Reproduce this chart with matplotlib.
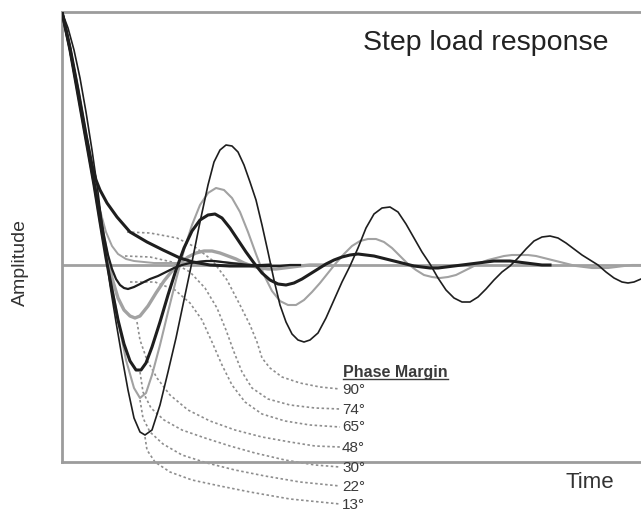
import matplotlib
matplotlib.use("Agg")
import matplotlib.pyplot as plt
from matplotlib.lines import Line2D

plt.rcParams['font.family'] = ['Liberation Sans', 'DejaVu Sans']

# time / amplitude in arbitrary units (no ticks on the original)
pm_labels = ["90°", "74°", "65°", "48°", "30°", "22°", "13°"]

t_13 = [0, 6, 12, 18, 24, 30, 36, 42, 48, 54, 60, 66, 72, 78, 83, 90, 98, 106, 114, 122,
        130, 138, 146, 152, 158, 164, 170, 176, 182, 188, 194, 200, 206, 212, 218, 224, 230, 236, 242, 248,
        256, 264, 272, 280, 288, 296, 304, 312, 320, 328, 336, 344, 352, 360, 368, 376, 384, 392, 400, 408,
        416, 424, 432, 440, 448, 456, 464, 472, 480, 488, 496, 504, 512, 520, 528, 536, 544, 552, 560, 566,
        572, 579]
a_13 = [253, 237, 215, 187, 153, 115, 73, 25, -20, -57, -92, -125, -153, -167, -170, -165, -140, -107, -73, -35,
        3, 43, 80, 103, 115, 120, 119, 113, 100, 83, 65, 40, 13, -15, -40, -57, -69, -75, -77, -75,
        -68, -53, -35, -17, -1, 17, 37, 51, 57, 58, 53, 41, 27, 13, 1, -13, -25, -33, -37, -37,
        -32, -24, -15, -7, -1, 7, 16, 24, 28, 29, 27, 22, 16, 10, 5, 0, -7, -13, -17, -18,
        -17, -14]

t_22 = [0, 8, 16, 24, 32, 40, 48, 56, 64, 72, 78, 84, 90, 98, 106, 114, 122, 130, 138, 146,
        154, 162, 170, 178, 186, 194, 202, 210, 218, 226, 234, 242, 250, 258, 266, 274, 282, 290, 298, 306,
        314, 322, 330, 338, 346, 354, 362, 370, 378, 386, 394, 402, 410, 418, 426, 434, 442, 450, 458, 466,
        474, 482, 490, 498, 506, 514, 522, 530, 538, 546, 554, 562, 570, 579]
a_22 = [253, 215, 170, 125, 80, 30, -10, -55, -95, -123, -133, -128, -110, -80, -47, -15, 15, 40, 60, 72,
        77, 75, 67, 53, 33, 11, -10, -26, -36, -40, -40, -35, -27, -18, -8, 2, 11, 19, 24, 26,
        26, 23, 17, 9, 1, -5, -10, -12, -13, -12, -10, -6, -2, 2, 5, 7, 9, 10, 10, 10,
        9, 7, 5, 3, 1, -1, -2, -3, -3, -3, -2, -1, 0, 0]

t_30 = [0, 8, 16, 24, 32, 38, 44, 50, 56, 62, 68, 74, 79, 84, 90, 98, 106, 114, 122, 130, 138, 146,
        153, 160, 168, 176, 184, 192, 200, 208, 216, 224, 232, 240, 248, 256, 264, 272, 280, 288,
        296, 304, 312, 320, 328, 336, 344, 352, 360, 368, 376, 384, 392, 400, 408, 416, 424, 432,
        440, 448, 456, 464, 472, 480, 488]
a_30 = [253, 215, 170, 125, 80, 43, 7, -25, -55, -79, -96, -105, -105, -98, -82, -57, -30, -5, 17, 34, 45, 50,
        51, 47, 37, 25, 13, 2, -8, -15, -19, -20, -18, -14, -9, -4, 1, 5, 8, 10,
        11, 10, 9, 7, 5, 3, 1, -1, -2, -3, -3, -2, -1, 0, 1, 2, 3, 4,
        4, 4, 3, 2, 1, 0, 0]

t_48 = [0, 8, 16, 24, 32, 38, 44, 50, 56, 62, 68, 73, 78, 86, 94, 102, 110, 118, 126, 134,
        142, 150, 158, 166, 174, 182, 190, 198, 206, 214, 222, 230, 238, 248, 268]
a_48 = [253, 217, 175, 130, 85, 50, 15, -13, -33, -45, -51, -53, -51, -41, -28, -16, -6, 2, 8, 12,
        14, 14, 12, 9, 6, 2, -1, -3, -4, -4, -3, -2, -1, 0, 0]

t_65 = [0, 8, 16, 24, 32, 38, 42, 46, 50, 54, 58, 62, 66, 72, 80, 88, 96, 104, 112, 120,
        128, 136, 144, 152, 160, 168, 178, 188, 198, 208, 218, 228, 238]
a_65 = [253, 217, 175, 130, 85, 53, 29, 10, -4, -14, -20, -23, -24, -22, -18, -14, -11, -7, -3, 0,
        2, 3, 4, 4, 3, 2, 1, 0, -1, -1, -1, 0, 0]

t_74 = [0, 8, 16, 24, 32, 38, 44, 50, 56, 64, 72, 82, 92, 102, 112, 122, 132, 142, 152, 162, 172, 182, 192, 208]
a_74 = [253, 215, 170, 125, 80, 55, 33, 19, 11, 6, 4, 3, 2, 2, 2, 2, 3, 4, 4, 3, 2, 1, 0, 0]

t_90 = [0, 8, 16, 24, 30, 34, 38, 45, 55, 68, 85, 101, 118, 131, 148, 168, 188, 208]
a_90 = [253, 217, 175, 130, 100, 85, 75, 62, 48, 33, 23, 15, 7, 3, 0, -1, -1, 0]

# dotted leader lines from each curve to its label
lt_90 = [65, 88, 115, 133, 150, 165, 178, 188, 195, 200, 208, 220, 238, 258, 278]
la_90 = [33, 32, 27, 18, 5, -15, -40, -60, -77, -93, -103, -112, -118, -122, -124]
lt_74 = [63, 88, 110, 128, 143, 155, 164, 172, 180, 190, 206, 228, 253, 278]
la_74 = [9, 8, 3, -7, -23, -43, -65, -87, -107, -123, -134, -140, -143, -144]
lt_65 = [68, 93, 113, 128, 140, 150, 160, 170, 183, 200, 223, 248, 278]
la_65 = [-17, -17, -25, -38, -55, -77, -100, -120, -137, -149, -156, -160, -162]
lt_48 = [75, 78, 85, 95, 108, 126, 148, 173, 200, 228, 253, 278]
la_48 = [-57, -75, -95, -113, -130, -145, -156, -165, -172, -177, -181, -182]
lt_30 = [78, 81, 89, 102, 120, 143, 168, 193, 223, 253, 278]
la_30 = [-107, -127, -143, -155, -165, -173, -181, -188, -195, -200, -202]
lt_22 = [78, 81, 88, 101, 120, 145, 173, 203, 238, 278]
la_22 = [-135, -153, -167, -179, -190, -198, -205, -211, -217, -221]
lt_13 = [83, 85, 93, 108, 130, 158, 188, 228, 278]
la_13 = [-172, -185, -197, -207, -215, -221, -227, -234, -239]

label_t = 280
label_a = [-125, -145, -162, -183, -203, -222, -240]

W, H = 641, 513
fig = plt.figure(figsize=(W / 100, H / 100), dpi=100)
ax = fig.add_axes([62 / W, (H - 462) / H, (W - 62) / W, 450 / H])
ax.set_xlim(0, 579)
ax.set_ylim(-197, 253)
ax.set_xticks([])
ax.set_yticks([])
frame = '#9c9c9c'
for s in ['left', 'top', 'bottom']:
    ax.spines[s].set_color(frame)
    ax.spines[s].set_linewidth(2.0)
ax.spines['right'].set_visible(False)

ax.axhline(0, color='#a0a0a0', lw=2.0, zorder=1)

black = '#1e1e1e'
grey = '#a2a2a2'
ax.plot(t_13, a_13, color=black, lw=1.2, zorder=3)
ax.plot(t_22, a_22, color=grey, lw=1.5, zorder=2)
ax.plot(t_30, a_30, color=black, lw=2.2, zorder=3)
ax.plot(t_48, a_48, color=grey, lw=2.4, zorder=2)
ax.plot(t_65, a_65, color=black, lw=1.6, zorder=3)
ax.plot(t_74, a_74, color=grey, lw=1.4, zorder=2)
ax.plot(t_90, a_90, color=black, lw=2.2, zorder=3)

leaders = [(lt_90, la_90), (lt_74, la_74), (lt_65, la_65), (lt_48, la_48),
           (lt_30, la_30), (lt_22, la_22), (lt_13, la_13)]
for lt, la in leaders:
    ax.plot(lt, la, color='#8e8e8e', lw=1.2, ls=(0, (1.5, 1.5)), clip_on=False, zorder=1.5)

txt = '#3a3a3a'
for lab, ya in zip(pm_labels, label_a):
    ax.text(label_t, ya, lab, fontsize=11, color=txt, ha='left', va='center', clip_on=False)

pm = ax.text(label_t + 1, -107, "Phase Margin", fontsize=11.5, fontweight='bold', color=txt,
             ha='left', va='center', clip_on=False)

ax.text(301, 222, "Step load response", fontsize=20.5, color='#222222', ha='left', va='center')
fig.text(20 / W, 1 - 262 / H, "Amplitude", rotation=90, fontsize=14, color='#333333',
         ha='center', va='center')
fig.text(590 / W, 1 - 482 / H, "Time", fontsize=16, color='#333333', ha='center', va='center')

# underline the legend heading
fig.canvas.draw()
bb = pm.get_window_extent()
fig.add_artist(Line2D([bb.x0 / W, bb.x1 / W], [(bb.y0 + 1) / H, (bb.y0 + 1) / H],
                      color=txt, lw=1.0, transform=fig.transFigure))

fig.savefig("out.png", dpi=100)
